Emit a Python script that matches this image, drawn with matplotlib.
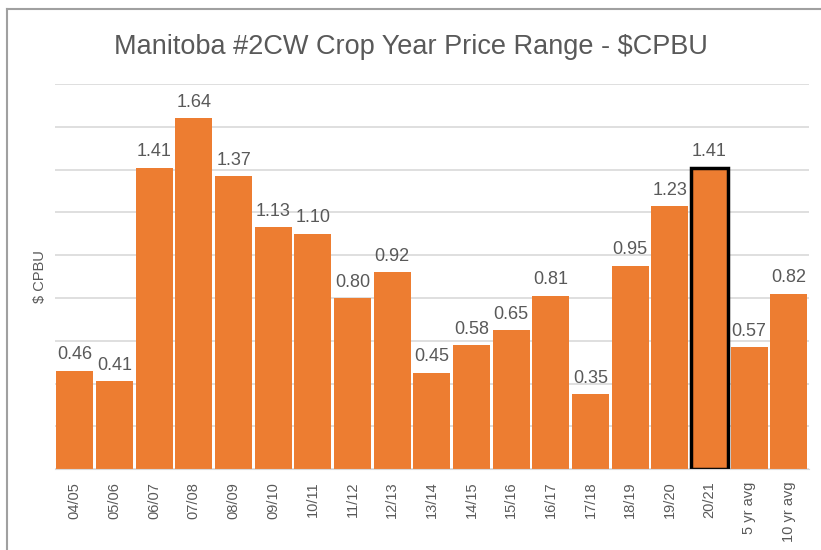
import matplotlib
matplotlib.use("Agg")
import matplotlib.pyplot as plt
from matplotlib.lines import Line2D

categories = ["04/05", "05/06", "06/07", "07/08", "08/09", "09/10", "10/11", "11/12",
              "12/13", "13/14", "14/15", "15/16", "16/17", "17/18", "18/19", "19/20",
              "20/21", "5 yr avg", "10 yr avg"]
values = [0.46, 0.41, 1.41, 1.64, 1.37, 1.13, 1.10, 0.80, 0.92, 0.45, 0.58, 0.65,
          0.81, 0.35, 0.95, 1.23, 1.41, 0.57, 0.82]
highlight = "20/21"
title = "Manitoba #2CW Crop Year Price Range - $CPBU"
ylabel = "$ CPBU"

plt.rcParams['font.family'] = ["Liberation Sans", "DejaVu Sans"]

orange = "#ED7D31"
gray = "#595959"

fig = plt.figure(figsize=(8.21, 5.5), dpi=100)
ax = fig.add_axes([0.067, 0.147, 0.918, 0.7])

x = range(len(categories))
bars = ax.bar(x, values, width=0.93, color=orange, zorder=2)
for b, c in zip(bars, categories):
    if c == highlight:
        b.set_edgecolor("black")
        b.set_linewidth(2.5)

for xi, v in zip(x, values):
    ax.text(xi, v + 0.035, f"{v:.2f}", ha="center", va="bottom", fontsize=13, color=gray)

ax.set_ylim(0, 1.8)
ax.set_xlim(-0.5, len(categories) - 0.5)
ax.set_yticks([i * 0.2 for i in range(10)])
ax.set_yticklabels([])
ax.tick_params(axis="y", length=0)
ax.yaxis.grid(True, color="#D9D9D9", linewidth=1.2, zorder=0)
ax.set_axisbelow(True)
ax.set_xticks(list(x))
ax.set_xticklabels(categories, rotation=90, fontsize=10.5, color=gray)
ax.tick_params(axis="x", length=0, pad=9)
for s in ["top", "right", "left"]:
    ax.spines[s].set_visible(False)
ax.spines["bottom"].set_color("#D9D9D9")
ax.set_ylabel(ylabel, fontsize=10.5, color=gray, labelpad=2)

fig.text(0.5, 0.915, title, ha="center", va="center", fontsize=19.5, color=gray)

fig.lines.append(Line2D([7 / 821, 1.0], [1 - 9 / 550, 1 - 9 / 550], transform=fig.transFigure,
                        color="#A0A0A0", linewidth=1.5))
fig.lines.append(Line2D([7 / 821, 7 / 821], [0, 1 - 9 / 550], transform=fig.transFigure,
                        color="#A0A0A0", linewidth=1.5))

fig.savefig("out.png", dpi=100)
